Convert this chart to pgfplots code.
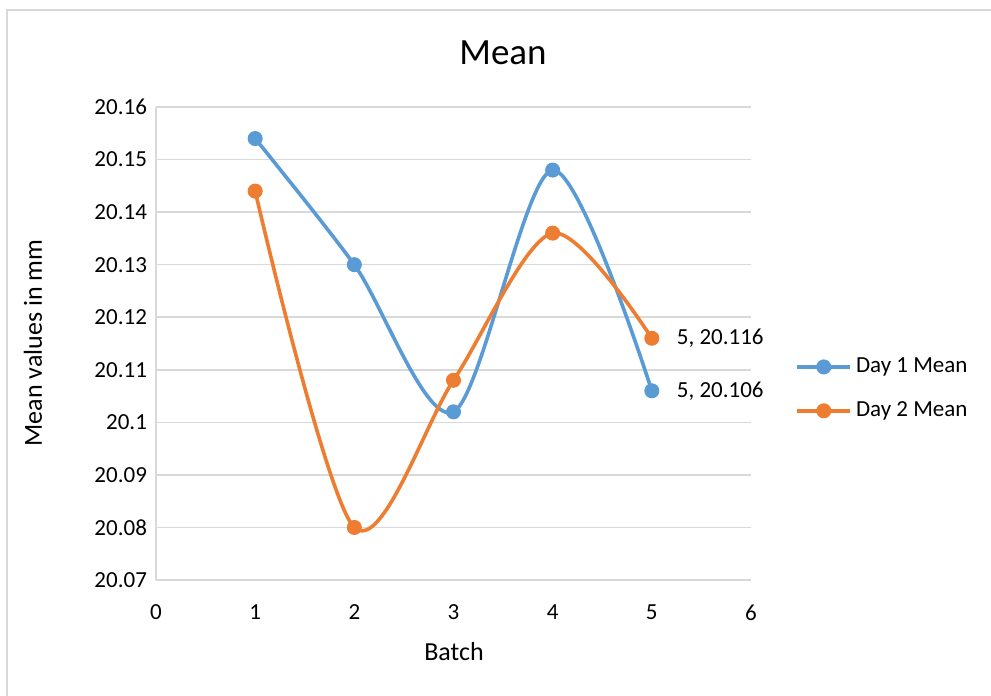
\documentclass[border=0pt]{standalone}
\usepackage{pgfplots}
\pgfplotsset{compat=1.18}
\usepackage{fontspec}
\setmainfont{Carlito}
\definecolor{c1}{RGB}{91,155,213}
\definecolor{c2}{RGB}{237,125,49}
\definecolor{gridc}{RGB}{217,217,217}
\begin{document}
\begin{tikzpicture}[x=0.5pt,y=0.5pt]
\useasboundingbox (0,0) rectangle (991,696);
\fill[white] (0,0) rectangle (991,696);
\draw[gridc, line width=0.75pt] (7,-10) rectangle (1000,686);
\begin{axis}[
  at={(78pt,58pt)}, anchor=south west, scale only axis,
  width=297.5pt, height=236.5pt,
  xmin=0, xmax=6, ymin=20.07, ymax=20.16,
  xtick={0,1,2,3,4,5,6},
  ytick={20.07,20.08,20.09,20.1,20.11,20.12,20.13,20.14,20.15,20.16},
  axis x line*=bottom, axis y line*=left,
  axis line style={gridc, line width=0.75pt},
  major tick length=0pt,
  ymajorgrids, grid style={gridc, line width=0.75pt},
  /pgf/number format/assume math mode=true,
  tick label style={font=\fontsize{11.5}{14}\selectfont, black},
  yticklabel style={/pgf/number format/fixed, /pgf/number format/precision=3, xshift=-1pt},
  xticklabel style={yshift=-9pt},
  legend style={at={(1.064,0.404)}, anchor=west, draw=none, fill=none,
    font=\fontsize{11.5}{14}\selectfont, row sep=9pt},
  legend cell align=left,
  legend image code/.code={\draw[mark repeat=2,mark phase=2,#1] plot coordinates {(0pt,0pt) (13.25pt,0pt) (26.5pt,0pt)};},
  clip=false,
]
\addplot[c1, line width=1.8pt, smooth, tension=0.5, mark=*, mark size=3.5pt, mark options={solid, fill=c1, draw=c1, line width=0.5pt}]
  coordinates {(1,20.154) (2,20.13) (3,20.102) (4,20.148) (5,20.106)};
\addlegendentry{Day 1 Mean}
\addplot[c2, line width=1.8pt, smooth, tension=0.5, mark=*, mark size=3.5pt, mark options={solid, fill=c2, draw=c2, line width=0.5pt}]
  coordinates {(1,20.144) (2,20.08) (3,20.108) (4,20.136) (5,20.116)};
\addlegendentry{Day 2 Mean}
\node[anchor=west, font=\fontsize{11.5}{14}\selectfont, xshift=9pt] at (axis cs:5,20.116) {5, 20.116};
\node[anchor=west, font=\fontsize{11.5}{14}\selectfont, xshift=9pt] at (axis cs:5,20.106) {5, 20.106};
\end{axis}
\node[font=\fontsize{18.5}{22}\selectfont] at (503,643) {Mean};
\node[rotate=90, font=\fontsize{13}{15}\selectfont] at (33,353) {Mean values in mm};
\node[font=\fontsize{13}{15}\selectfont] at (454,44) {Batch};
\end{tikzpicture}
\end{document}
